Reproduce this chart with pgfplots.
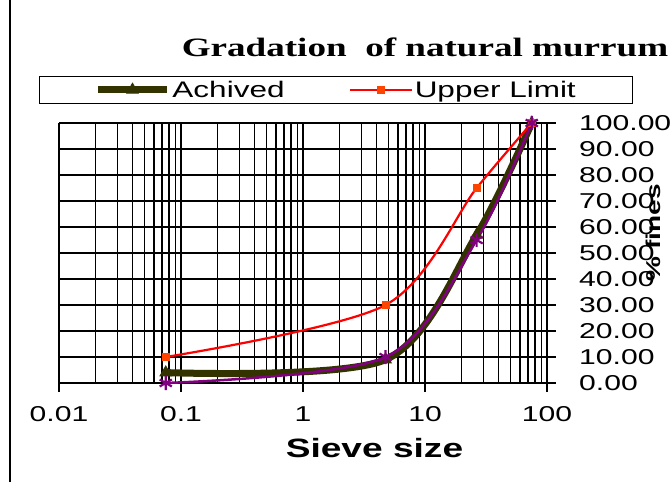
\documentclass[border=0pt]{standalone}
\usepackage{fontspec}
\setmainfont{Liberation Sans}[FakeStretch=1.4]
\newfontfamily\titlefont{Liberation Serif}[FakeStretch=1.4]
\usepackage{pgfplots}
\pgfplotsset{compat=1.18}
\definecolor{olivec}{HTML}{333300}
\definecolor{purp}{HTML}{800080}
\definecolor{mkred}{HTML}{FF4400}
\pgfplotsset{
  legA/.style={legend image code/.code={\draw[mark repeat=2,mark phase=2,##1] plot coordinates {(0pt,0pt) (34.5pt,0pt) (69pt,0pt)};}},
  legB/.style={legend image code/.code={\draw[mark repeat=2,mark phase=2,##1] plot coordinates {(0pt,0pt) (31pt,0pt) (62pt,0pt)};}},
}
\begin{document}
\begin{tikzpicture}[x=1pt,y=1pt]
\useasboundingbox (0,0) rectangle (671,482);
\draw[line width=1.5pt] (10,0) -- (10,482);
\begin{axis}[
  at={(59pt,99pt)}, anchor=south west,
  scale only axis, width=488pt, height=260pt,
  xmode=log, xmin=0.01, xmax=100, ymin=0, ymax=100,
  clip=false,
  axis x line=bottom, axis y line=right,
  axis line style={-, line width=1.4pt, black},
  xtick={0.01,0.1,1,10,100},
  xticklabels={0.01,0.1,1,10,100},
  minor xtick={0.02,0.03,0.04,0.05,0.06,0.07,0.08,0.09,0.2,0.3,0.4,0.5,0.6,0.7,0.8,0.9,2,3,4,5,6,7,8,9,20,30,40,50,60,70,80,90},
  ytick={0,10,20,30,40,50,60,70,80,90,100},
  yticklabels={0.00,10.00,20.00,30.00,40.00,50.00,60.00,70.00,80.00,90.00,100.00},
  xmajorgrids, xminorgrids, ymajorgrids,
  major grid style={black, line width=1.5pt},
  minor grid style={black, line width=1.4pt},
  tick align=outside, major tick length=9pt, minor tick length=0pt,
  tick style={black, line width=1.4pt},
  xticklabel style={anchor=base, yshift=-29pt, inner sep=0pt, font=\fontsize{21.5}{24}\selectfont},
  yticklabel style={anchor=west, xshift=23pt, inner sep=0pt, font=\fontsize{21.5}{24}\selectfont},
  title={Gradation\ \ of natural murrum},
  title style={at={(axis description cs:0.75,1.2308)}, anchor=base, inner sep=0pt, font=\titlefont\bfseries\fontsize{26.5}{30}\selectfont},
  xlabel={Sieve size},
  xlabel style={at={(axis description cs:0.6465,-0.2846)}, anchor=base, inner sep=0pt, font=\bfseries\fontsize{26.5}{30}\selectfont},
  ylabel={\% fines},
  every axis y label/.style={at={(axis description cs:1.217,0.577)}, rotate=90, anchor=center, inner sep=0pt, font=\bfseries\fontsize{20}{22}\selectfont},
  legend columns=2,
  legend style={at={(axis description cs:-0.041,1.181)}, anchor=north west, draw=black, line width=1pt,
    font=\fontsize{22.5}{26}\selectfont, inner xsep=55pt, inner ysep=4.5pt,
    /tikz/every even column/.append style={column sep=62pt},
    nodes={inner xsep=2pt, inner ysep=0pt}},
]
\addplot[olivec, line width=7pt, smooth, mark=triangle*, mark size=6.5pt, mark options={solid, line width=1pt}, legA]
  coordinates {(0.075,4) (4.75,9) (26.5,57) (75,100)};
\addlegendentry{Achived}
\addplot[red, line width=2.2pt, smooth, mark=square*, mark size=3.5pt, mark options={solid, fill=mkred, draw=mkred, line width=0.5pt}, legB]
  coordinates {(0.075,10) (4.75,30) (26.5,75) (75,100)};
\addlegendentry{Upper Limit}
\addplot[purp, line width=2.5pt, smooth, mark=asterisk, mark size=7pt, mark options={solid, line width=2.2pt}, forget plot]
  coordinates {(0.075,0) (4.75,10) (26.5,55) (75,100)};
\end{axis}
\end{tikzpicture}
\end{document}
